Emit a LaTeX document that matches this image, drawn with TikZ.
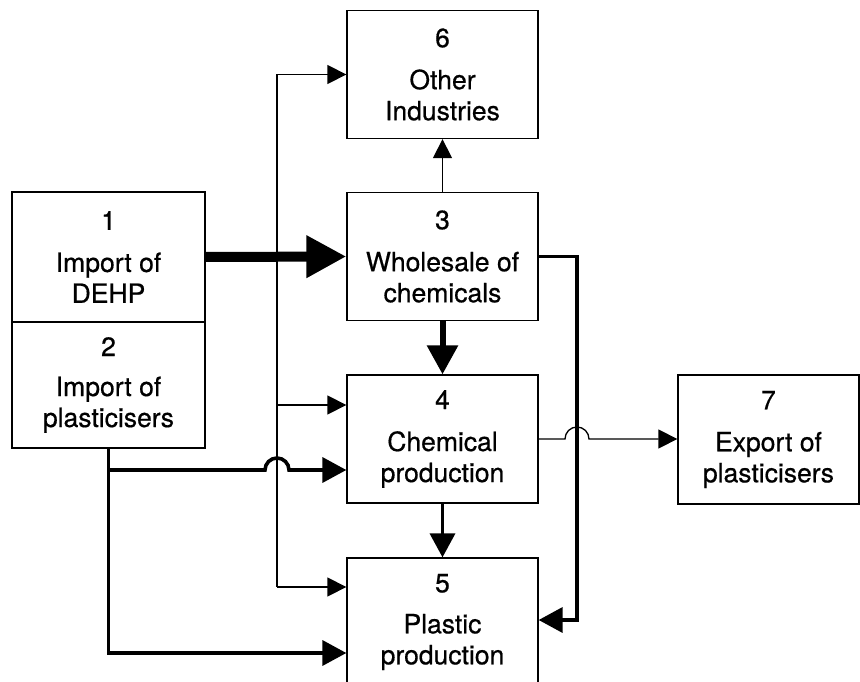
\documentclass[tikz,border=0pt]{standalone}
\usepackage{fontspec}
\setmainfont{TeX Gyre Heros}
\newfontfamily\boxfont{TeX Gyre Heros}[FakeBold=0.6]
\usetikzlibrary{arrows.meta}

\begin{document}
\begin{tikzpicture}[x=1pt,y=-1pt,
  box/.style={draw,line width=1.3pt,inner sep=0pt,align=center,
    minimum width=191pt,minimum height=128pt,
    font=\boxfont\fontsize{26.5}{31}\selectfont},
  thinflow/.style={line width=1.3pt,-{Triangle[length=19pt,width=19pt]}},
  medflow/.style={line width=3.6pt,-{Triangle[length=24pt,width=25pt]}},
  bigflow/.style={line width=10pt,-{Triangle[length=40pt,width=40pt]}}]
\useasboundingbox (0,0) rectangle (860,682);
\node[box] (n6) at (442.5,74.5) {6\\[11pt]Other\\Industries};
\node[box] (n3) at (442.5,256.5) {3\\[11pt]Wholesale of\\chemicals};
\node[box,minimum width=193pt,minimum height=130pt] (n1) at (108.5,257) {1\\[11pt]Import of\\DEHP};
\node[box,minimum width=193pt,minimum height=126pt] (n2) at (108.5,385) {2\\[9pt]Import of\\plasticisers};
\node[box] (n4) at (442.5,439) {4\\[11pt]Chemical\\production};
\node[box] (n5) at (442.5,622) {5\\[10pt]Plastic\\production};
\node[box,minimum width=181pt,minimum height=129pt] (n7) at (768.5,439.5) {7\\[11pt]Export of\\plasticisers};
\coordinate (t6) at (277,74.5);
\coordinate (t4) at (277,405);
\coordinate (t5) at (277,587);
\coordinate (r5) at (577,620);
\draw [line width=1.3pt] (t6)--(t5);
\draw [thinflow] (t6)--(n6.west);
\draw [thinflow] (t4)--(t4 -| n4.west);
\draw [thinflow] (t5)--(t5 -| n5.west);
\draw [bigflow] (n1.east)--(n3.west);
\draw [thinflow] (n3.north)--(n6.south);
\draw [medflow,line width=6pt,-{Triangle[length=29pt,width=30pt]}] (n3.south)--(n4.north);
\draw [medflow] (n4.south)--(n5.north);
\draw [medflow] (n3.east) -| (r5)--(r5 -| n5.east);
\draw [medflow] (n2.south) |- (n5.west |- 0,653);
\draw [medflow] (n2.south |- 0,470)--(265,470) arc (180:0:12pt)--(n4.west |- 0,470);
\draw [thinflow] (n4.east)--(565,439) arc (180:0:12pt)--(n7.west |- n4.east);
\end{tikzpicture}
\end{document}
